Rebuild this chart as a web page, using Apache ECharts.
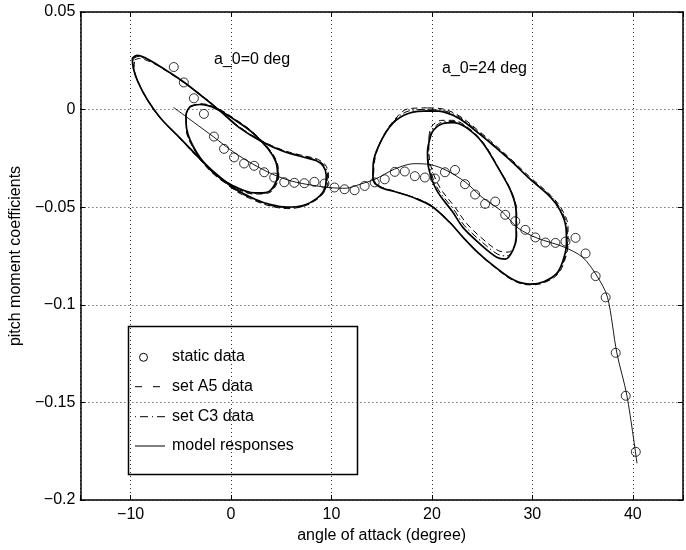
<!DOCTYPE html>
<html>
<head>
<meta charset="utf-8">
<script src="https://cdn.jsdelivr.net/npm/echarts/dist/echarts.min.js"></script>
<style>
html,body{margin:0;padding:0;background:#fff;}
#chart{width:686px;height:550px;}
</style>
</head>
<body>
<div id="chart"></div>
<script>
// ---- tick labels ----
const xTicks = [-10, 0, 10, 20, 30, 40];
const xTickLabels = ['\u221210', '0', '10', '20', '30', '40'];
const yTicks = [-0.2, -0.15, -0.1, -0.05, 0, 0.05];
const yTickLabels = ['\u22120.2', '\u22120.15', '\u22120.1', '\u22120.05', '0', '0.05'];

// ---- static data ----
const staticX = [-5.7,-4.7,-3.7,-2.7,-1.7,-0.7,0.3,1.3,2.3,3.3,4.3,5.3,6.3,7.3,8.3,9.3,10.3,11.3,12.3,13.3,14.3,15.3,16.3,17.3,18.3,19.3,20.3,21.3,22.3,23.3,24.3,25.3,26.3,27.3,28.3,29.3,30.3,31.3,32.3,33.3,34.3,35.3,36.3,37.3,38.3,39.3,40.3];
const staticY = [0.0218,0.0139,0.0058,-0.0022,-0.0138,-0.0201,-0.0245,-0.0276,-0.0288,-0.0321,-0.0348,-0.0372,-0.0375,-0.0377,-0.0370,-0.0379,-0.0399,-0.0408,-0.0413,-0.0391,-0.0373,-0.0357,-0.0319,-0.0317,-0.0341,-0.0348,-0.0353,-0.0321,-0.0309,-0.0382,-0.0435,-0.0483,-0.0471,-0.0539,-0.0572,-0.0616,-0.0655,-0.0681,-0.0683,-0.0676,-0.0657,-0.0737,-0.0853,-0.0962,-0.1246,-0.1466,-0.1753];

// ---- model static curve ----
const modelStatic = [[-5.72,0.0011],[-3.71,-0.0065],[-1.68,-0.0142],[0.26,-0.0218],[2.20,-0.0280],[4.14,-0.0331],[6.08,-0.0367],[8.02,-0.0387],[9.96,-0.0400],[11.42,-0.0403],[12.87,-0.0382],[14.33,-0.0357],[16.27,-0.0305],[18.21,-0.0277],[19.85,-0.0282],[21.40,-0.0310],[23.34,-0.0372],[24.99,-0.0449],[26.93,-0.0520],[28.58,-0.0607],[30.52,-0.0659],[33.05,-0.0702],[34.99,-0.0756],[36.44,-0.0853],[37.48,-0.0961],[38.41,-0.1246],[39.42,-0.1466],[40.42,-0.1812]];

// ---- a_0 = 0 deg, large loop ----
const loopL1Model = [[-9.83,0.0263],[-9.34,0.0278],[-8.47,0.0263],[-7.50,0.0235],[-6.24,0.0194],[-4.68,0.0140],[-2.84,0.0066],[-1.19,-0.0003],[0.75,-0.0090],[2.98,-0.0162],[5.31,-0.0216],[7.25,-0.0244],[8.51,-0.0262],[9.19,-0.0290],[9.48,-0.0336],[9.43,-0.0387],[9.14,-0.0423],[8.51,-0.0456],[7.25,-0.0490],[5.60,-0.0500],[3.95,-0.0487],[2.40,-0.0459],[0.46,-0.0408],[-1.68,-0.0321],[-3.42,-0.0234],[-5.27,-0.0136],[-7.01,-0.0044],[-8.30,0.0048],[-9.27,0.0142],[-9.73,0.0212],[-9.83,0.0263]];
const loopL1A5 = [[-9.6,0.0255],[-9.1,0.0262],[-8.3,0.0250],[-7.4,0.0228],[-6.2,0.0190],[-4.7,0.0138],[-2.8,0.0068],[-1.2,0.0000],[0.8,-0.0088],[3.0,-0.0158],[5.3,-0.0210],[7.2,-0.0236],[8.6,-0.0254],[9.4,-0.0284],[9.7,-0.0334],[9.6,-0.0390],[9.2,-0.0428],[8.5,-0.0462],[7.2,-0.0496],[5.6,-0.0507],[3.9,-0.0494],[2.3,-0.0465],[0.4,-0.0414],[-1.7,-0.0326],[-3.5,-0.0236],[-5.3,-0.0135],[-7.1,-0.0040],[-8.4,0.0055],[-9.3,0.0150],[-9.65,0.0215],[-9.6,0.0255]];
const loopL1C3 = [[-9.75,0.0260],[-9.25,0.0272],[-8.4,0.0258],[-7.45,0.0232],[-6.2,0.0192],[-4.65,0.0139],[-2.8,0.0067],[-1.15,-0.0001],[0.8,-0.0087],[3.0,-0.0160],[5.3,-0.0213],[7.3,-0.0240],[8.6,-0.0258],[9.3,-0.0288],[9.6,-0.0335],[9.5,-0.0388],[9.2,-0.0425],[8.5,-0.0460],[7.2,-0.0494],[5.6,-0.0504],[3.9,-0.0491],[2.35,-0.0462],[0.4,-0.0411],[-1.7,-0.0323],[-3.45,-0.0236],[-5.3,-0.0137],[-7.05,-0.0042],[-8.35,0.0052],[-9.3,0.0146],[-9.7,0.0214],[-9.75,0.0260]];

// ---- a_0 = 0 deg, small loop ----
const loopL2Model = [[-4.10,0.0014],[-3.13,0.0026],[-1.51,0.0005],[0.43,-0.0055],[2.04,-0.0114],[3.66,-0.0199],[4.46,-0.0268],[4.63,-0.0336],[4.31,-0.0387],[3.66,-0.0422],[2.37,-0.0427],[0.10,-0.0387],[-1.84,-0.0319],[-3.45,-0.0217],[-4.42,-0.0097],[-4.49,-0.0029],[-4.10,0.0014]];
const loopL2A5 = [[-4.0,0.0020],[-3.0,0.0030],[-1.4,0.0008],[0.5,-0.0052],[2.1,-0.0112],[3.7,-0.0196],[4.55,-0.0266],[4.75,-0.0336],[4.45,-0.0390],[3.75,-0.0427],[2.4,-0.0433],[0.05,-0.0393],[-1.9,-0.0323],[-3.5,-0.0220],[-4.45,-0.0098],[-4.45,-0.0025],[-4.0,0.0020]];
const loopL2C3 = [[-4.05,0.0017],[-3.05,0.0028],[-1.45,0.0006],[0.45,-0.0054],[2.05,-0.0113],[3.7,-0.0198],[4.5,-0.0267],[4.7,-0.0337],[4.4,-0.0389],[3.7,-0.0425],[2.4,-0.0430],[0.08,-0.0390],[-1.87,-0.0321],[-3.48,-0.0218],[-4.45,-0.0097],[-4.47,-0.0027],[-4.05,0.0017]];

// ---- a_0 = 24 deg, large loop ----
const loopR1Model = [[19.83,-0.0007],[21.31,-0.0014],[22.76,-0.0047],[24.70,-0.0123],[26.28,-0.0191],[27.90,-0.0264],[29.55,-0.0346],[31.78,-0.0447],[32.75,-0.0515],[33.34,-0.0601],[33.40,-0.0686],[33.07,-0.0771],[32.43,-0.0839],[31.13,-0.0882],[29.84,-0.0894],[28.22,-0.0874],[26.28,-0.0806],[24.67,-0.0737],[23.06,-0.0652],[21.76,-0.0577],[19.98,-0.0495],[18.37,-0.0455],[16.43,-0.0422],[14.81,-0.0396],[14.13,-0.0357],[14.16,-0.0276],[14.81,-0.0174],[16.10,-0.0071],[17.72,-0.0019],[19.83,-0.0007]];
const loopR1A5 = [[19.6,0.0009],[21.2,0.0002],[22.8,-0.0035],[24.8,-0.0115],[26.4,-0.0186],[28.0,-0.0260],[29.7,-0.0343],[31.9,-0.0443],[32.95,-0.0512],[33.55,-0.0600],[33.55,-0.0688],[33.2,-0.0775],[32.5,-0.0845],[31.1,-0.0888],[29.8,-0.0898],[28.1,-0.0876],[26.2,-0.0806],[24.6,-0.0735],[23.0,-0.0648],[21.7,-0.0572],[19.9,-0.0491],[18.3,-0.0452],[16.4,-0.0420],[14.8,-0.0392],[14.2,-0.0350],[14.3,-0.0262],[15.0,-0.0152],[16.3,-0.0050],[17.7,0.0005],[19.6,0.0009]];
const loopR1C3 = [[19.7,0.0002],[21.25,-0.0006],[22.8,-0.0041],[24.75,-0.0119],[26.35,-0.0189],[27.95,-0.0262],[29.6,-0.0345],[31.85,-0.0445],[32.85,-0.0514],[33.45,-0.0601],[33.5,-0.0687],[33.15,-0.0773],[32.45,-0.0842],[31.1,-0.0885],[29.8,-0.0896],[28.15,-0.0875],[26.25,-0.0806],[24.65,-0.0736],[23.05,-0.0650],[21.75,-0.0575],[19.95,-0.0493],[18.35,-0.0453],[16.4,-0.0421],[14.8,-0.0394],[14.15,-0.0354],[14.2,-0.0270],[14.9,-0.0163],[16.2,-0.0060],[17.7,-0.0007],[19.7,0.0002]];

// ---- a_0 = 24 deg, small loop ----
const loopR2Model = [[19.76,-0.0157],[20.15,-0.0106],[21.12,-0.0071],[22.09,-0.0067],[23.35,-0.0090],[25.00,-0.0167],[26.61,-0.0300],[27.90,-0.0423],[28.39,-0.0526],[28.39,-0.0652],[28.07,-0.0720],[27.32,-0.0766],[26.45,-0.0756],[24.70,-0.0684],[23.06,-0.0602],[22.09,-0.0526],[20.47,-0.0413],[19.66,-0.0295],[19.56,-0.0218],[19.76,-0.0157]];
const loopR2A5 = [[19.7,-0.0140],[20.0,-0.0085],[21.0,-0.0055],[22.1,-0.0055],[23.4,-0.0085],[25.05,-0.0165],[26.65,-0.0300],[27.95,-0.0423],[28.45,-0.0526],[28.45,-0.0650],[28.2,-0.0700],[27.6,-0.0730],[26.6,-0.0722],[25.0,-0.0660],[23.4,-0.0580],[22.3,-0.0500],[20.8,-0.0400],[19.9,-0.0290],[19.7,-0.0210],[19.7,-0.0140]];
const loopR2C3 = [[19.72,-0.0150],[20.1,-0.0098],[21.08,-0.0064],[22.1,-0.0061],[23.38,-0.0088],[25.03,-0.0166],[26.63,-0.0300],[27.92,-0.0423],[28.42,-0.0526],[28.42,-0.0651],[28.12,-0.0712],[27.45,-0.0750],[26.52,-0.0740],[24.85,-0.0672],[23.2,-0.0592],[22.2,-0.0514],[20.6,-0.0407],[19.75,-0.0292],[19.62,-0.0214],[19.72,-0.0150]];

const legendNames = ['static data', 'set A5 data', 'set C3 data', 'model responses'];
const annotations = ['a_0=0 deg', 'a_0=24 deg'];

const FONT = '"Liberation Sans", Arial, Helvetica, sans-serif';

function fmt(ticks, labels) {
  return function (v) {
    for (let i = 0; i < ticks.length; i++) if (Math.abs(ticks[i] - v) < 1e-9) return labels[i];
    return '';
  };
}

const styleModel = { color: '#000', width: 1.7, type: 'solid' };
const styleA5 = { color: '#000', width: 1, type: [6, 4] };
const styleC3 = { color: '#000', width: 1, type: [7, 3, 1.5, 3] };

function loopSeries(name, data, ls) {
  return {
    name: name, type: 'line', data: data, showSymbol: false, symbol: 'none',
    smooth: 0.35, lineStyle: ls, silent: true, z: 3
  };
}

const series = [
  loopSeries('set A5 data', loopL1A5, styleA5),
  loopSeries('set C3 data', loopL1C3, styleC3),
  loopSeries('model responses', loopL1Model, styleModel),
  loopSeries('set A5 data', loopL2A5, styleA5),
  loopSeries('set C3 data', loopL2C3, styleC3),
  loopSeries('model responses', loopL2Model, styleModel),
  loopSeries('set A5 data', loopR1A5, styleA5),
  loopSeries('set C3 data', loopR1C3, styleC3),
  loopSeries('model responses', loopR1Model, styleModel),
  loopSeries('set A5 data', loopR2A5, styleA5),
  loopSeries('set C3 data', loopR2C3, styleC3),
  loopSeries('model responses', loopR2Model, styleModel),
  {
    name: 'model static', type: 'line', data: modelStatic, showSymbol: false, symbol: 'none',
    smooth: 0.3, lineStyle: { color: '#000', width: 0.9 }, z: 2
  },
  {
    name: 'static data', type: 'scatter',
    data: staticX.map((x, i) => [x, staticY[i]]),
    symbol: 'circle', symbolSize: 9,
    itemStyle: { color: 'transparent', borderColor: '#000', borderWidth: 1 }, z: 4
  }
];

const axisCommon = {
  type: 'value',
  axisLine: { show: true, onZero: false, lineStyle: { color: '#000', width: 1.5 } },
  axisTick: { show: true, inside: true, length: 5, lineStyle: { color: '#000', width: 1 } },
};

const chart = echarts.init(document.getElementById('chart'), null, { renderer: 'canvas' });
chart.setOption({
  animation: false,
  backgroundColor: '#fff',
  grid: { left: 78, top: 12, width: 619, height: 488, containLabel: false },
  xAxis: [
    Object.assign({}, axisCommon, {
      min: -15, max: 45, position: 'bottom',
      axisLabel: { formatter: fmt(xTicks, xTickLabels), color: '#000', fontSize: 16, fontFamily: FONT, margin: 7 },
      splitLine: { show: true, lineStyle: { color: '#333', width: 1, type: [1, 3] } },
      name: 'angle of attack (degree)', nameLocation: 'middle', nameGap: 24,
      nameTextStyle: { color: '#000', fontSize: 16, fontFamily: FONT }
    }),
    Object.assign({}, axisCommon, {
      min: -15, max: 45, position: 'top',
      axisLabel: { show: false }, splitLine: { show: false }
    })
  ],
  yAxis: [
    Object.assign({}, axisCommon, {
      min: -0.2, max: 0.05, interval: 0.05, position: 'left',
      axisLabel: { formatter: fmt(yTicks, yTickLabels), color: '#000', fontSize: 16, fontFamily: FONT, margin: 5 },
      splitLine: { show: true, lineStyle: { color: '#333', width: 1, type: [1, 3] } },
      name: 'pitch moment coefficients', nameLocation: 'middle', nameGap: 46, nameRotate: 90,
      nameTextStyle: { color: '#000', fontSize: 16, fontFamily: FONT }
    }),
    Object.assign({}, axisCommon, {
      min: -0.2, max: 0.05, interval: 0.05, position: 'right',
      axisLabel: { show: false }, splitLine: { show: false }
    })
  ],
  series: series,
  graphic: [
    { type: 'text', left: 214, top: 52, style: { text: annotations[0], font: '16px ' + FONT, fill: '#000' }, z: 10 },
    { type: 'text', left: 442, top: 61, style: { text: annotations[1], font: '16px ' + FONT, fill: '#000' }, z: 10 },
    { type: 'rect', shape: { x: 128.5, y: 326.5, width: 229, height: 148 }, style: { fill: 'none', stroke: '#000', lineWidth: 1.5 }, z: 10 },
    { type: 'circle', shape: { cx: 143.5, cy: 357.3, r: 4 }, style: { fill: 'none', stroke: '#000', lineWidth: 1 }, z: 10 },
    { type: 'line', shape: { x1: 135, y1: 386.7, x2: 162, y2: 386.7 }, style: { stroke: '#000', lineWidth: 1, lineDash: [7, 11] }, z: 10 },
    { type: 'line', shape: { x1: 135, y1: 416.7, x2: 165, y2: 416.7 }, style: { stroke: '#000', lineWidth: 1, lineDash: [1, 4, 8, 4] }, z: 10 },
    { type: 'line', shape: { x1: 135, y1: 446, x2: 165, y2: 446 }, style: { stroke: '#000', lineWidth: 1 }, z: 10 },
    { type: 'text', left: 172, top: 349, style: { text: legendNames[0], font: '16px ' + FONT, fill: '#000' }, z: 10 },
    { type: 'text', left: 172, top: 378.5, style: { text: legendNames[1], font: '16px ' + FONT, fill: '#000' }, z: 10 },
    { type: 'text', left: 172, top: 408.5, style: { text: legendNames[2], font: '16px ' + FONT, fill: '#000' }, z: 10 },
    { type: 'text', left: 172, top: 438, style: { text: legendNames[3], font: '16px ' + FONT, fill: '#000' }, z: 10 }
  ]
});
</script>
</body>
</html>
